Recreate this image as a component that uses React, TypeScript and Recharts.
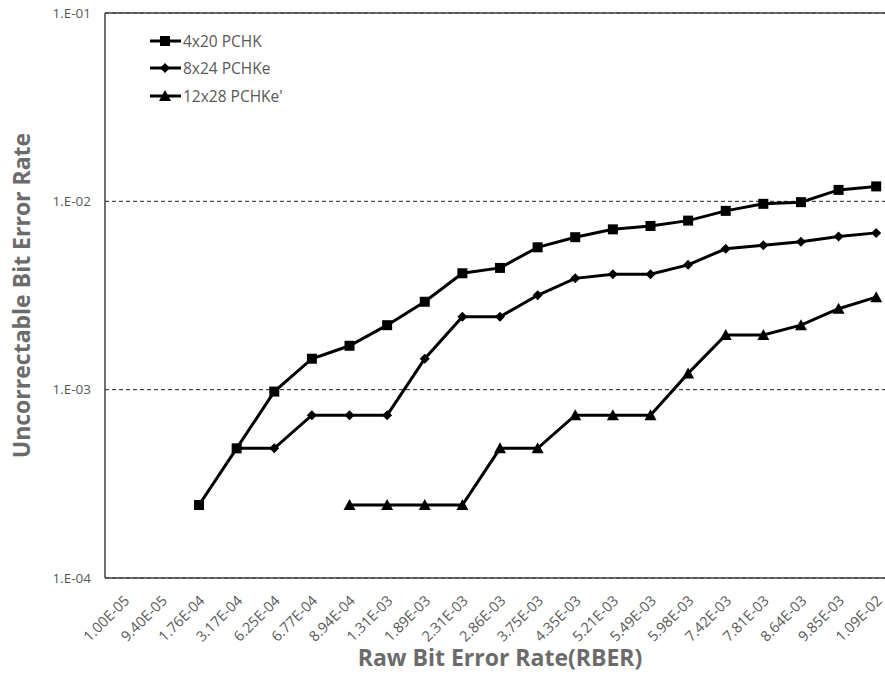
import React from 'react';
import {
  LineChart,
  Line,
  XAxis,
  YAxis,
  CartesianGrid,
  ReferenceLine,
} from 'recharts';

const categories = [
  '1.00E-05', '9.40E-05', '1.76E-04', '3.17E-04', '6.25E-04', '6.77E-04', '8.94E-04',
  '1.31E-03', '1.89E-03', '2.31E-03', '2.86E-03', '3.75E-03', '4.35E-03', '5.21E-03',
  '5.49E-03', '5.98E-03', '7.42E-03', '7.81E-03', '8.64E-03', '9.85E-03', '1.09E-02',
];

const pchk = [
  null, null, 2.44e-4, 4.88e-4, 9.77e-4, 1.46e-3, 1.71e-3, 2.2e-3, 2.93e-3, 4.15e-3,
  4.43e-3, 5.7e-3, 6.45e-3, 7.1e-3, 7.4e-3, 7.9e-3, 8.9e-3, 9.7e-3, 9.9e-3, 1.15e-2, 1.2e-2,
];

const pchke = [
  null, null, null, 4.88e-4, 4.88e-4, 7.32e-4, 7.32e-4, 7.32e-4, 1.46e-3, 2.44e-3,
  2.44e-3, 3.17e-3, 3.9e-3, 4.1e-3, 4.1e-3, 4.6e-3, 5.6e-3, 5.85e-3, 6.1e-3, 6.5e-3, 6.8e-3,
];

const pchke2 = [
  null, null, null, null, null, null, 2.44e-4, 2.44e-4, 2.44e-4, 2.44e-4,
  4.88e-4, 4.88e-4, 7.32e-4, 7.32e-4, 7.32e-4, 1.22e-3, 1.95e-3, 1.95e-3, 2.2e-3, 2.69e-3, 3.1e-3,
];

const yTicks = [1e-4, 1e-3, 1e-2, 1e-1];
const yTickLabels = ['1.E-04', '1.E-03', '1.E-02', '1.E-01'];

const seriesNames = ['4x20 PCHK', '8x24 PCHKe', "12x28 PCHKe'"];

const data = categories.map((c, i) => ({
  rber: c,
  pchk: pchk[i],
  pchke: pchke[i],
  pchke2: pchke2[i],
}));

const FONT = '"Open Sans", sans-serif';
const GRAY = '#595959';
const TITLE = '#6b6b6b';

type Shape = 'square' | 'diamond' | 'triangle';

function marker(shape: Shape, cx: number, cy: number) {
  if (shape === 'square') return <rect x={cx - 5} y={cy - 5} width={10} height={10} fill="#000" />;
  if (shape === 'diamond')
    return <polygon points={`${cx},${cy - 5} ${cx + 5},${cy} ${cx},${cy + 5} ${cx - 5},${cy}`} fill="#000" />;
  return <polygon points={`${cx},${cy - 6} ${cx + 6},${cy + 5} ${cx - 6},${cy + 5}`} fill="#000" />;
}

const makeDot = (shape: Shape) => (props: any) => {
  const { cx, cy, value, index } = props;
  if (value == null || cx == null || cy == null) return <g key={index} />;
  return <g key={index}>{marker(shape, cx, cy)}</g>;
};

const shapes: Shape[] = ['square', 'diamond', 'triangle'];

function LegendBox() {
  return (
    <div style={{ position: 'absolute', left: 149, top: 27, fontFamily: FONT, fontSize: 15.5, color: GRAY }}>
      {seriesNames.map((n, i) => (
        <div key={n} style={{ display: 'flex', alignItems: 'center', height: 27.5 }}>
          <svg width={34} height={14}>
            <line x1={1} y1={7} x2={32} y2={7} stroke="#000" strokeWidth={3} />
            {marker(shapes[i], 16, 7)}
          </svg>
          <span>{n}</span>
        </div>
      ))}
    </div>
  );
}

function XTick(props: any) {
  const { x, y, payload } = props;
  return (
    <g transform={`translate(${x + 3},${y + 18})`}>
      <text
        transform="rotate(-45)"
        textAnchor="end"
        dy="0.35em"
        fontSize={14.5}
        fontFamily={FONT}
        fill={GRAY}
      >
        {payload.value}
      </text>
    </g>
  );
}

export default function App() {
  return (
    <div style={{ position: 'absolute', left: 0, top: 0, width: 885, height: 676, overflow: 'hidden', background: '#fff' }}>
      <LineChart
        width={900}
        height={676}
        data={data}
        margin={{ top: 13, right: 5, bottom: 0, left: 0 }}
      >
        <CartesianGrid vertical={false} stroke="#222" strokeDasharray="4 3" />
        <XAxis
          dataKey="rber"
          height={98}
          interval={0}
          padding={{ left: 18.8, right: 18.8 }}
          tickLine={false}
          tickSize={0}
          tick={<XTick />}
          axisLine={{ stroke: '#404040', strokeWidth: 1.5 }}
          label={{
            value: 'Raw Bit Error Rate(RBER)',
            position: 'insideBottom',
            offset: 10,
            dx: 0,
            style: { fontFamily: FONT, fontSize: 23, fontWeight: 700, fill: TITLE },
          }}
        />
        <YAxis
          scale="log"
          domain={[1e-4, 1e-1]}
          ticks={yTicks}
          allowDataOverflow
          width={105}
          tickLine={false}
          tickSize={0}
          tickMargin={14}
          tickFormatter={(v: number) => yTickLabels[yTicks.findIndex((t) => Math.abs(t - v) < t * 1e-6)] ?? ''}
          tick={{ fontFamily: FONT, fontSize: 13.5, fill: GRAY }}
          axisLine={{ stroke: '#404040', strokeWidth: 1.5 }}
          label={{
            value: 'Uncorrectable Bit Error Rate',
            angle: -90,
            position: 'insideLeft',
            offset: 22,
            dy: 0,
            style: { fontFamily: FONT, fontSize: 23, fontWeight: 700, fill: TITLE, textAnchor: 'middle' },
          }}
        />
        <ReferenceLine y={1e-1} stroke="#404040" strokeWidth={1.5} />
        <Line
          dataKey="pchk"
          name={seriesNames[0]}
          stroke="#000"
          strokeWidth={3}
          dot={makeDot('square')}
          activeDot={false}
          isAnimationActive={false}
        />
        <Line
          dataKey="pchke"
          name={seriesNames[1]}
          stroke="#000"
          strokeWidth={3}
          dot={makeDot('diamond')}
          activeDot={false}
          isAnimationActive={false}
        />
        <Line
          dataKey="pchke2"
          name={seriesNames[2]}
          stroke="#000"
          strokeWidth={3}
          dot={makeDot('triangle')}
          activeDot={false}
          isAnimationActive={false}
        />
      </LineChart>
      <LegendBox />
    </div>
  );
}
